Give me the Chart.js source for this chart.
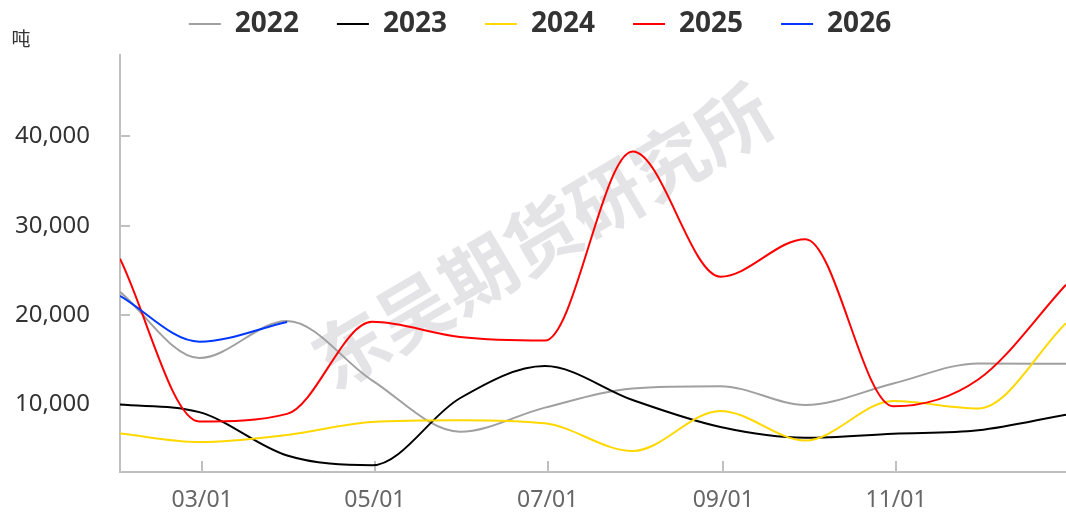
<!DOCTYPE html>
<html>
<head>
<meta charset="utf-8">
<script src="https://cdn.jsdelivr.net/npm/chart.js@4.4.1/dist/chart.umd.min.js"></script>
<style>
  html, body { margin: 0; padding: 0; background: #fff; }
</style>
</head>
<body>
<canvas id="canvas1" width="1066" height="515"></canvas>
<script>
// month-end dates of each reading
var months = ['01/31', '02/28', '03/31', '04/30', '05/31', '06/30', '07/31', '08/31', '09/30', '10/31', '11/30', '12/31'];
var tickLabels = ['03/01', '05/01', '07/01', '09/01', '11/01'];
var yTicks = [10000, 20000, 30000, 40000];
var years = ['2022', '2023', '2024', '2025', '2026'];
var colors = ['#a0a0a0', '#000000', '#ffd800', '#ff0000', '#0038ff'];

var v2022 = [22600, 15200, 19350, 12700, 6950, 9650, 11800, 12050, 9950, 12350, 14600, 14550];
var v2023 = [10000, 9150, 4300, 3200, 10700, 14300, 10500, 7480, 6280, 6730, 7110, 8870];
var v2024 = [6770, 5800, 6600, 8050, 8250, 7900, 4800, 9280, 5980, 10390, 9550, 19100];
var v2025 = [26300, 8100, 8950, 19250, 17550, 17150, 38300, 24300, 28500, 9800, 12800, 23400];
var v2026 = [22150, 17030, 19240];

var series = [v2022, v2023, v2024, v2025, v2026];

var monthStart = [0, 31, 59, 90, 120, 151, 181, 212, 243, 273, 304, 334];
function dayOfYear(md) {
    var p = md.split('/');
    return monthStart[parseInt(p[0], 10) - 1] + parseInt(p[1], 10);
}
var tickDays = tickLabels.map(dayOfYear);

var datasets = years.map(function (y, i) {
    return {
        label: y,
        data: series[i].map(function (v, j) { return { x: dayOfYear(months[j]), y: v }; }),
        borderColor: colors[i],
        backgroundColor: colors[i],
        borderWidth: 2,
        pointRadius: 0,
        pointHoverRadius: 0,
        cubicInterpolationMode: 'monotone',
        order: years.length - 1 - i
    };
});

// legend needs wide spacing but a short box
var legendFit = {
    id: 'legendFit',
    beforeLayout: function (chart) {
        var lg = chart.legend;
        if (lg && !lg._patched) {
            var fit = lg.fit;
            lg.fit = function () {
                fit.call(this);
                this.height = 83;
            };
            lg._patched = true;
        }
    }
};

var watermark = {
    id: 'watermark',
    beforeDatasetsDraw: function (chart) {
        var ctx = chart.ctx;
        ctx.save();
        ctx.translate(542, 236);
        ctx.rotate(-30.5 * Math.PI / 180);
        ctx.font = 'bold 74px "Noto Sans CJK SC"';
        ctx.fillStyle = 'rgba(205,205,210,0.55)';
        ctx.textAlign = 'center';
        ctx.textBaseline = 'middle';
        ctx.fillText('东吴期货研究所', 0, 0);
        ctx.restore();
    }
};

var unitLabel = {
    id: 'unitLabel',
    afterDraw: function (chart) {
        var ctx = chart.ctx;
        ctx.save();
        ctx.font = '19px "Noto Sans CJK SC"';
        ctx.fillStyle = '#333';
        ctx.textAlign = 'center';
        ctx.textBaseline = 'middle';
        ctx.fillText('吨', 21, 39);
        ctx.restore();
    }
};

new Chart(document.getElementById('canvas1'), {
    type: 'line',
    data: { datasets: datasets },
    options: {
        responsive: false,
        animation: false,
        layout: { padding: { top: -28, left: 14, right: 0, bottom: 0 } },
        plugins: {
            tooltip: { enabled: false },
            legend: {
                position: 'top',
                labels: {
                    usePointStyle: true,
                    pointStyle: 'line',
                    pointStyleWidth: 32,
                    boxHeight: 2,
                    padding: 38,
                    color: '#333',
                    font: { family: 'Noto Sans', size: 28, weight: 'bold' },
                    sort: function (a, b) { return a.datasetIndex - b.datasetIndex; }
                }
            }
        },
        scales: {
            x: {
                type: 'linear',
                min: 31,
                max: 365,
                afterBuildTicks: function (scale) {
                    scale.ticks = tickDays.map(function (d) { return { value: d }; });
                },
                afterFit: function (scale) {
                    scale.height = 43;
                    scale.paddingLeft = 0;
                    scale.paddingRight = 0;
                },
                grid: { drawOnChartArea: false, tickLength: -11, color: '#c0c0c0', lineWidth: 2 },
                border: { color: '#c0c0c0', width: 2 },
                ticks: {
                    padding: 26,
                    color: '#666',
                    maxRotation: 0,
                    font: { family: 'Noto Sans', size: 23 },
                    callback: function (v) {
                        var k = tickDays.indexOf(v);
                        return k >= 0 ? tickLabels[k] : '';
                    }
                }
            },
            y: {
                min: 2450,
                max: 49100,
                afterBuildTicks: function (scale) {
                    scale.ticks = yTicks.map(function (v) { return { value: v }; });
                },
                afterFit: function (scale) {
                    scale.width = 106;
                    scale.paddingTop = 0;
                    scale.paddingBottom = 0;
                },
                grid: { drawOnChartArea: false, tickLength: -10, color: '#c0c0c0', lineWidth: 2 },
                border: { color: '#c0c0c0', width: 2 },
                ticks: {
                    padding: 40,
                    color: '#333',
                    font: { family: 'Noto Sans', size: 24 },
                    callback: function (v) { return v.toLocaleString('en-US'); }
                }
            }
        }
    },
    plugins: [legendFit, watermark, unitLabel]
});
</script>
</body>
</html>
